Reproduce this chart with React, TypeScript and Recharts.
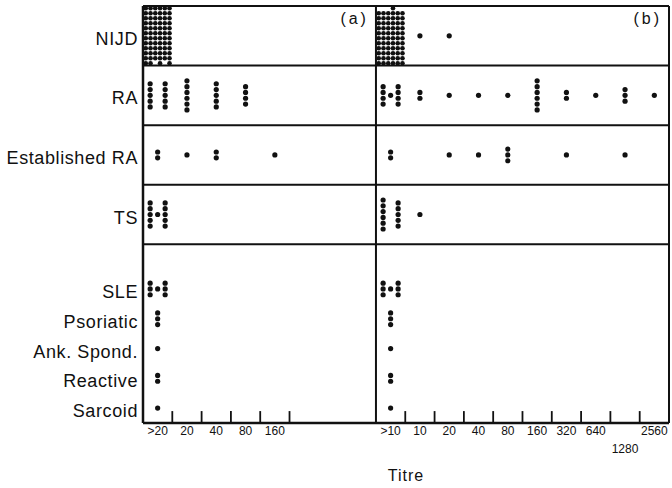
import React from 'react';
import { ScatterChart, Scatter, XAxis, YAxis, ReferenceLine } from 'recharts';

// titre categories of the two panels
const TITRES_A = ['>20', '20', '40', '80', '160'];
const TITRES_B = ['>10', '10', '20', '40', '80', '160', '320', '640', '1280', '2560'];

const GROUPS = ['NIJD', 'RA', 'Established RA', 'TS', 'SLE', 'Psoriatic', 'Ank. Spond.', 'Reactive', 'Sarcoid'];

// patients per titre, split over the little columns the dots are stacked in
const NIJD_A = [[12, 12, 11, 12, 11, 12]];
const NIJD_B = [[11, 11, 11, 12, 11, 11], [1], [1]];
const RA_A = [[5, 0, 5], [6], [5], [4]];
const RA_B = [[4, 1, 4], [2], [1], [1], [1], [6], [2], [1], [3], [1]];
const EST_RA_A = [[2], [1], [2], [], [1]];
const EST_RA_B = [[2], [], [1], [1], [3], [], [1], [], [1]];
const TS_A = [[5, 1, 5]];
const TS_B = [[6, 0, 5], [1]];
const SLE_A = [[3, 1, 3]];
const SLE_B = [[3, 1, 3]];
const PSORIATIC_A = [[3]];
const PSORIATIC_B = [[3]];
const ANK_SPOND_A = [[1]];
const ANK_SPOND_B = [[1]];
const REACTIVE_A = [[2]];
const REACTIVE_B = [[2]];
const SARCOID_A = [[1]];
const SARCOID_B = [[1]];

// layout, in axis units: one titre bin = 1 on x, one label slot = 1 on y
const PANEL_B_START = 7.95;
const X_MAX = 17.95;
const Y_MAX = 14;
const ROW_Y = [1, 3, 5, 7, 9.5, 10.5, 11.5, 12.5, 13.5];
const BANDS = [2, 4, 6, 8];

type Pt = { x: number; y: number; dense: boolean };

function stack(counts: number[][], start: number, rowY: number, align = 'center'): Pt[] {
  const pts: Pt[] = [];
  counts.forEach((cols, bin) => {
    const dense = cols.length > 3;
    const dx = dense ? 0.162 : 0.256;
    const dy = dense ? 0.168 : 0.195;
    const max = Math.max(0, ...cols);
    cols.forEach((n, c) => {
      const x = start + bin + 0.5 + (c - (cols.length - 1) / 2) * dx;
      for (let k = 0; k < n; k++) {
        let y = rowY + (k - (n - 1) / 2) * dy;
        if (dense && align === 'top') y = rowY - ((max - 1) / 2) * dy + k * dy;
        if (dense && align === 'bottom') y = rowY + ((max - 1) / 2) * dy - k * dy;
        pts.push({ x, y, dense });
      }
    });
  });
  return pts;
}

const PANEL_A = [NIJD_A, RA_A, EST_RA_A, TS_A, SLE_A, PSORIATIC_A, ANK_SPOND_A, REACTIVE_A, SARCOID_A];
const PANEL_B = [NIJD_B, RA_B, EST_RA_B, TS_B, SLE_B, PSORIATIC_B, ANK_SPOND_B, REACTIVE_B, SARCOID_B];

const points: Pt[] = [
  ...PANEL_A.flatMap((c, i) => stack(c, 0, ROW_Y[i], 'top')),
  ...PANEL_B.flatMap((c, i) => stack(c, PANEL_B_START, ROW_Y[i], 'bottom')),
];
const normalDots = points.filter(p => !p.dense);
const denseDots = points.filter(p => p.dense);

const X_LABELS = [...TITRES_A, ...TITRES_B];
const X_TICKS = [
  ...TITRES_A.map((_, i) => i + 0.5),
  ...TITRES_B.map((_, i) => PANEL_B_START + i + 0.5),
];
const BOUNDARIES = [
  ...TITRES_A.map((_, i) => i + 1),
  ...TITRES_B.slice(1).map((_, i) => PANEL_B_START + i + 1),
];

const FONT = '"Liberation Sans", Arial, sans-serif';
const INK = '#111';

const XTick = (props: any) => {
  const { x, y, index } = props;
  const label = X_LABELS[index];
  const low = label === '1280';
  return (
    <text x={x} y={y + (low ? 22 : 4)} textAnchor="middle" fontSize={12} fontFamily={FONT} fill={INK}>
      {label}
    </text>
  );
};

const YTick = (props: any) => {
  const { x, y, index } = props;
  return (
    <text x={x + 3} y={y + 9} textAnchor="end" fontSize={18} fontFamily={FONT} letterSpacing={0.6} fill={INK}>
      {GROUPS[index]}
    </text>
  );
};

const dot = (r: number) => (p: any) => <circle cx={p.cx} cy={p.cy} r={r} fill={INK} />;

export default function App() {
  return (
    <div style={{ position: 'absolute', left: 0, top: 0, width: 672, height: 488, background: '#fff' }}>
      <ScatterChart width={672} height={488} margin={{ top: 6, right: 3, bottom: 0, left: 0 }}>
        <XAxis
          dataKey="x"
          type="number"
          domain={[0, X_MAX]}
          ticks={X_TICKS}
          interval={0}
          allowDataOverflow
          axisLine={false}
          tickLine={false}
          tick={XTick}
          height={65}
          label={{ value: 'Titre', position: 'insideBottom', offset: 7, fontSize: 16, fontFamily: FONT, fill: INK, letterSpacing: 1 }}
        />
        <YAxis
          dataKey="y"
          type="number"
          domain={[0, Y_MAX]}
          reversed
          ticks={ROW_Y}
          interval={0}
          allowDataOverflow
          width={143}
          axisLine={false}
          tickLine={false}
          tick={YTick}
        />
        {[0, ...BANDS].map(v => (
          <ReferenceLine key={`h${v}`} y={v} stroke={INK} strokeWidth={2} ifOverflow="visible" />
        ))}
        <ReferenceLine y={Y_MAX} stroke={INK} strokeWidth={2.5} ifOverflow="visible" />
        <ReferenceLine x={0} stroke={INK} strokeWidth={2.5} ifOverflow="visible" />
        <ReferenceLine
          x={PANEL_B_START}
          stroke={INK}
          strokeWidth={2}
          ifOverflow="visible"
          label={{ value: '(a)', position: 'insideTopRight', offset: 7, fontSize: 16, fontFamily: FONT, fill: INK, letterSpacing: 3 }}
        />
        <ReferenceLine
          x={X_MAX}
          stroke={INK}
          strokeWidth={2}
          ifOverflow="visible"
          label={{ value: '(b)', position: 'insideTopRight', offset: 7, fontSize: 16, fontFamily: FONT, fill: INK, letterSpacing: 3 }}
        />
        {BOUNDARIES.map(b => (
          <ReferenceLine
            key={`t${b}`}
            segment={[{ x: b, y: Y_MAX }, { x: b, y: Y_MAX - 0.4 }]}
            stroke={INK}
            strokeWidth={1.8}
            ifOverflow="visible"
          />
        ))}
        <Scatter data={denseDots} isAnimationActive={false} shape={dot(2.3)} />
        <Scatter data={normalDots} isAnimationActive={false} shape={dot(2.6)} />
      </ScatterChart>
    </div>
  );
}
